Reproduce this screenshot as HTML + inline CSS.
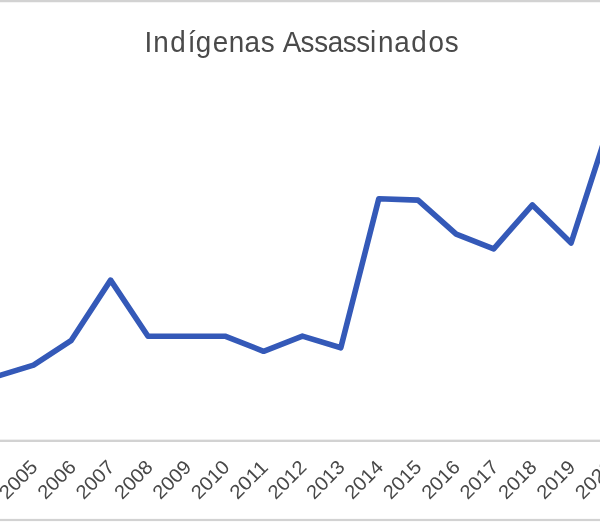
<!DOCTYPE html>
<html lang="pt">
<head>
<meta charset="utf-8">
<title>Indígenas Assassinados</title>
<style>
html,body{margin:0;padding:0;background:#fff;}
body{width:600px;height:522px;overflow:hidden;position:relative;font-family:"Liberation Sans",sans-serif;}
svg{display:block;position:absolute;left:0;top:0;}
text{font-family:"Liberation Sans",sans-serif;}
</style>
</head>
<body>
<svg width="600" height="522" viewBox="0 0 600 522">
  <rect x="0" y="0" width="600" height="522" fill="#ffffff"/>
  <g shape-rendering="crispEdges">
    <rect x="0" y="0" width="600" height="2" fill="#d2d2d2"/>
    <rect x="0" y="2" width="600" height="1" fill="#f4f4f4"/>
    <rect x="0" y="439" width="600" height="1" fill="#efefef"/>
    <rect x="0" y="440" width="600" height="2" fill="#d2d2d2"/>
    <rect x="0" y="518" width="600" height="1" fill="#fafafa"/>
    <rect x="0" y="519" width="600" height="2" fill="#d2d2d2"/>
    <rect x="0" y="521" width="600" height="1" fill="#fbfbfb"/>
  </g>
  <g font-size="29" fill="#4a4a4a" transform="scale(0.96,1)">
    <text id="t1" y="51.7" x="150.56 159.52 177.42 195.64 203.98 221.65 238.27 254.61 271.51">Indígenas</text>
    <text id="t2" y="51.7" x="294.50 313.13 327.35 341.43 356.93 371.20 385.53 393.63 410.60 428.46 446.37 463.18">Assassinados</text>
  </g>
  <polyline fill="none" stroke="#3459b8" stroke-width="5.6" stroke-linejoin="round" stroke-linecap="round"
    points="-5,376.9 33.5,365.1 71,340.7 110.6,280.1 148,336.2 186.5,336.2 225,336.2 263.6,351.3 302.4,336.1 340.8,347.8 378.8,198.8 418,200.1 456.2,234.2 493.7,248.8 532.4,204.9 571.1,243 609,126"/>
  <g font-size="19.5" fill="#484848" text-anchor="end">
    <text transform="translate(38.8,468.4) rotate(-45)" textLength="45" lengthAdjust="spacingAndGlyphs">2005</text>
    <text transform="translate(77.2,468.4) rotate(-45)" textLength="45" lengthAdjust="spacingAndGlyphs">2006</text>
    <text transform="translate(115.6,468.4) rotate(-45)" textLength="45" lengthAdjust="spacingAndGlyphs">2007</text>
    <text transform="translate(154.0,468.4) rotate(-45)" textLength="45" lengthAdjust="spacingAndGlyphs">2008</text>
    <text transform="translate(192.4,468.4) rotate(-45)" textLength="45" lengthAdjust="spacingAndGlyphs">2009</text>
    <text transform="translate(230.8,468.4) rotate(-45)" textLength="45" lengthAdjust="spacingAndGlyphs">2010</text>
    <text transform="translate(269.2,468.4) rotate(-45)" textLength="45" lengthAdjust="spacingAndGlyphs">2011</text>
    <text transform="translate(307.6,468.4) rotate(-45)" textLength="45" lengthAdjust="spacingAndGlyphs">2012</text>
    <text transform="translate(346.0,468.4) rotate(-45)" textLength="45" lengthAdjust="spacingAndGlyphs">2013</text>
    <text transform="translate(384.4,468.4) rotate(-45)" textLength="45" lengthAdjust="spacingAndGlyphs">2014</text>
    <text transform="translate(422.8,468.4) rotate(-45)" textLength="45" lengthAdjust="spacingAndGlyphs">2015</text>
    <text transform="translate(461.2,468.4) rotate(-45)" textLength="45" lengthAdjust="spacingAndGlyphs">2016</text>
    <text transform="translate(499.6,468.4) rotate(-45)" textLength="45" lengthAdjust="spacingAndGlyphs">2017</text>
    <text transform="translate(538.0,468.4) rotate(-45)" textLength="45" lengthAdjust="spacingAndGlyphs">2018</text>
    <text transform="translate(576.4,468.4) rotate(-45)" textLength="45" lengthAdjust="spacingAndGlyphs">2019</text>
    <text transform="translate(614.8,468.4) rotate(-45)" textLength="45" lengthAdjust="spacingAndGlyphs">2020</text>
  </g>
</svg>
</body>
</html>
